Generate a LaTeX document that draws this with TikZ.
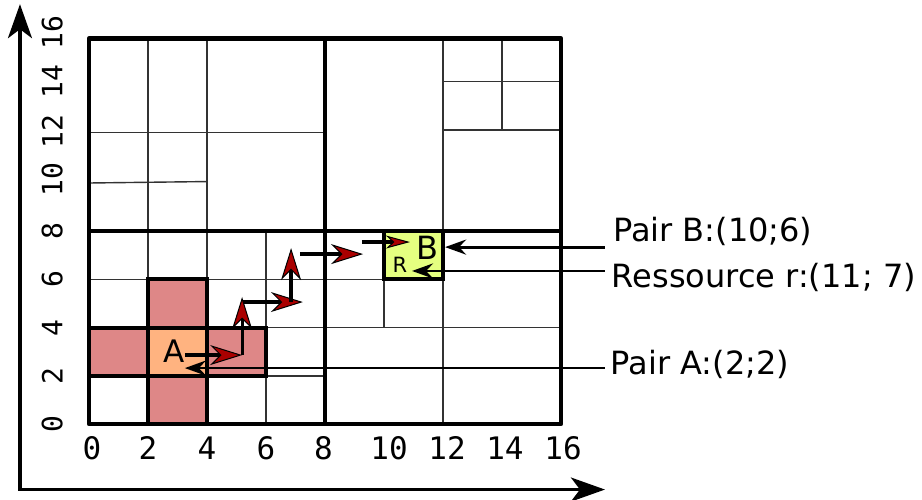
\documentclass[tikz,border=0pt]{standalone}
\usepackage{fontspec}
\setmainfont{DejaVu Sans}
\newfontfamily\dmono{DejaVu Sans Mono}
\usetikzlibrary{arrows.meta}
\definecolor{pinkc}{RGB}{222,135,135}
\definecolor{orangec}{RGB}{255,179,128}
\definecolor{yellowc}{RGB}{229,255,128}
\definecolor{redhead}{RGB}{170,0,0}
\begin{document}
\begin{tikzpicture}[
  thingrid/.style={draw=black!80, line width=1.4pt},
  midgrid/.style={draw=black, line width=3.5pt},
  framebox/.style={draw=black, line width=4.5pt, line join=round},
  cellbox/.style={draw=black, line width=4pt},
  axisline/.style={line width=3.2pt, >={Stealth[length=34pt,width=24pt,inset=9pt]}, <->},
  pathstep/.style={line width=3.2pt, -{Stealth[length=32pt,width=20pt,inset=10pt,fill=redhead,line width=1pt]}},
  smallstep/.style={line width=3.2pt, -{Stealth[length=24pt,width=13pt,inset=7pt,fill=redhead,line width=1pt]}},
  pointer/.style={line width=2.8pt, -{Stealth[length=21pt,width=15pt,inset=7pt]}},
  xlab/.style={font=\dmono\fontsize{31}{31}\selectfont, inner sep=0pt},
  ylab/.style={font=\dmono\fontsize{28}{28}\selectfont, inner sep=0pt, rotate=90},
  desc/.style={font=\fontsize{32}{38}\selectfont, inner sep=0pt, anchor=base west},
  celltext/.style={inner sep=0pt},
]
\useasboundingbox (0,0) rectangle (922pt,499pt);
\begin{scope}[shift={(89pt,75pt)}, x=29.5pt, y=24.1pt]
  % fills
  \fill[orangec] (2,2) rectangle (4,4);
  % thin grid lines
  \draw[thingrid] (2,0) -- (2,16);
  \draw[thingrid] (4,0) -- (4,16);
  \draw[thingrid] (6,0) -- (6,8);
  \draw[thingrid] (12,0) -- (12,16);
  \draw[thingrid] (10,4) -- (10,8);
  \draw[thingrid] (14,12.2) -- (14,16);
  \draw[thingrid] (0,2) -- (8,2);
  \draw[thingrid] (0,4) -- (16,4);
  \draw[thingrid] (0,6) -- (12,6);
  \draw[thingrid] (0,10) -- (4,10.06);
  \draw[thingrid] (0,12.1) -- (8,12.1);
  \draw[thingrid] (12,12.2) -- (16,12.2);
  \draw[thingrid] (12,14.2) -- (16,14.2);
  % main split
  \draw[midgrid] (8,0) -- (8,16);
  \draw[midgrid] (0,8) -- (16,8);
  % coloured cells
  \draw[cellbox, fill=pinkc] (0,2) rectangle (2,4);
  \draw[cellbox, fill=pinkc] (2,4) rectangle (4,6);
  \draw[cellbox, fill=pinkc] (4,2) rectangle (6,4);
  \draw[cellbox, fill=pinkc] (2,0) rectangle (4,2);
  \draw[cellbox, fill=yellowc] (10,6) rectangle (12,8);
  % frame
  \draw[framebox] (0,0) rectangle (16,16);
  % cell texts
  \node[celltext, font=\fontsize{31}{31}\selectfont] (A) at (2.88,3.03) {A};
  \node[celltext, font=\fontsize{32}{32}\selectfont] (B) at (11.49,7.30) {B};
  \node[celltext, font=\fontsize{21}{21}\selectfont] (R) at (10.54,6.62) {R};
  % red path
  \coordinate (s1) at (3.25,2.86);
  \coordinate (t1) at (5.19,2.86);
  \coordinate (t2) at (5.19,5.27);
  \coordinate (s3) at (5.22,5.06);
  \coordinate (t3) at (7.25,5.06);
  \coordinate (s4) at (6.85,5.06);
  \coordinate (t4) at (6.85,7.30);
  \coordinate (s5) at (7.15,7.05);
  \coordinate (t5) at (9.29,7.05);
  \coordinate (s6) at (9.25,7.55);
  \coordinate (t6) at (10.88,7.55);
  \draw[pathstep] (s1) -- (t1);
  \draw[pathstep] (t1) -- (t2);
  \draw[pathstep] (s3) -- (t3);
  \draw[pathstep] (s4) -- (t4);
  \draw[pathstep] (s5) -- (t5);
  \draw[smallstep] (s6) -- (t6);
  % descriptions
  \node[desc] (pb) at (17.76,7.59) {Pair B:(10;6)};
  \node[desc] (rr) at (17.72,5.68) {Ressource r:(11; 7)};
  \node[desc] (pa) at (17.68,2.07) {Pair A:(2;2)};
  \coordinate (pbs) at (17.49,7.34);
  \coordinate (pbe) at (12.07,7.34);
  \coordinate (rrs) at (17.49,6.35);
  \coordinate (rre) at (10.95,6.35);
  \coordinate (pas) at (17.49,2.32);
  \coordinate (pae) at (3.25,2.32);
  \draw[pointer] (pbs) -- (pbe);
  \draw[pointer] (rrs) -- (rre);
  \draw[pointer] (pas) -- (pae);
  % axes
  \coordinate (ytop) at (-2.34,17.42);
  \coordinate (corner) at (-2.34,-2.72);
  \coordinate (xend) at (17.49,-2.72);
  \draw[axisline] (ytop) -- (corner) -- (xend);
  % x labels
  \node[xlab] (x0) at (0.1,-1.0) {0};
  \node[xlab] (x2) at (2.0,-1.0) {2};
  \node[xlab] (x4) at (4.0,-1.0) {4};
  \node[xlab] (x6) at (6.0,-1.0) {6};
  \node[xlab] (x8) at (7.95,-1.0) {8};
  \node[xlab] (x10) at (10.17,-1.0) {10};
  \node[xlab] (x12) at (12.14,-1.0) {12};
  \node[xlab] (x14) at (14.1,-1.0) {14};
  \node[xlab] (x16) at (16.07,-1.0) {16};
  % y labels
  \node[ylab] (y0) at (-1.25,0) {0};
  \node[ylab] (y2) at (-1.25,2) {2};
  \node[ylab] (y4) at (-1.25,4) {4};
  \node[ylab] (y6) at (-1.25,6) {6};
  \node[ylab] (y8) at (-1.25,8) {8};
  \node[ylab] (y10) at (-1.25,10.15) {10};
  \node[ylab] (y12) at (-1.25,12.15) {12};
  \node[ylab] (y14) at (-1.25,14.2) {14};
  \node[ylab] (y16) at (-1.25,16.25) {16};
\end{scope}
\end{tikzpicture}
\end{document}
